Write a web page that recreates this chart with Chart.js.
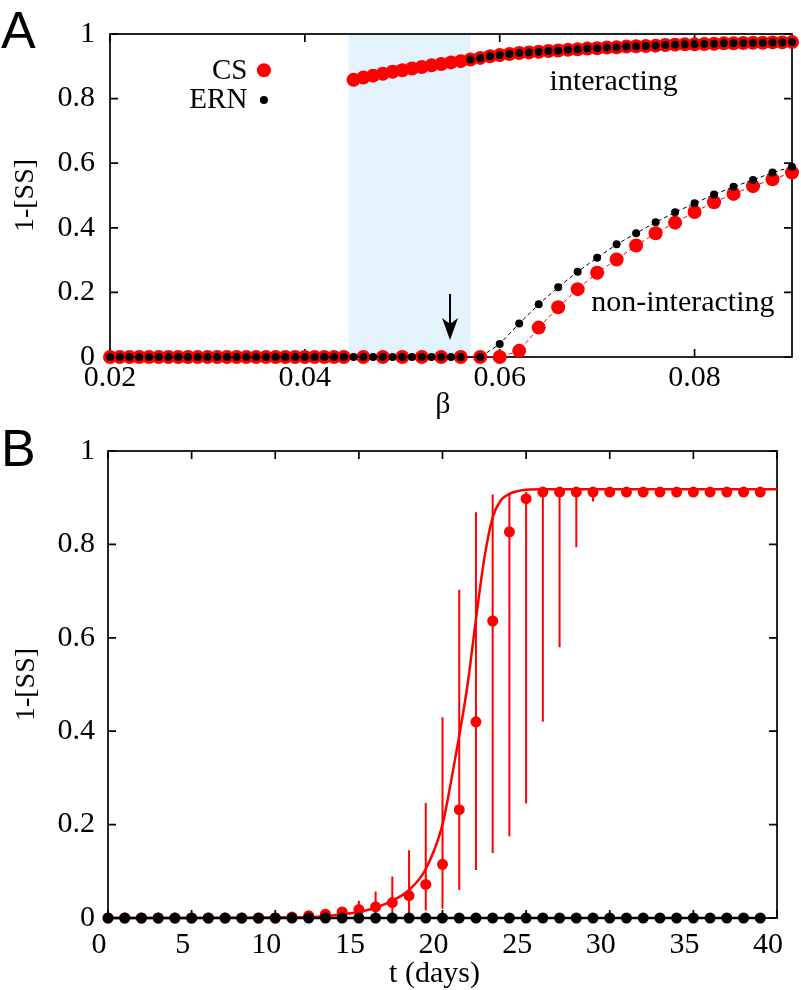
<!DOCTYPE html>
<html lang="en">
<head>
<meta charset="utf-8">
<script src="https://cdn.jsdelivr.net/npm/chart.js@4.4.1/dist/chart.umd.min.js"></script>
<style>
  html, body { margin: 0; padding: 0; background: #fff; }
  #wrap { position: relative; width: 801px; height: 990px; }
  canvas { position: absolute; left: 0; }
  #chartA { top: 0; }
  #chartB { top: 420px; }
</style>
</head>
<body>
<div id="wrap">
  <canvas id="chartA" width="801" height="420"></canvas>
  <canvas id="chartB" width="801" height="570"></canvas>
</div>
<script>
// ---------- panel A : 1-[SS] versus beta ----------
const betaTicks = [0.02, 0.04, 0.06, 0.08];
const levelTicks = [0, 0.2, 0.4, 0.6, 0.8, 1];
const bistableRange = [0.0445, 0.057];   // shaded band

// non-interacting branch (lower), CS
const csLowBeta = [0.020,0.021,0.022,0.023,0.024,0.025,0.026,0.027,0.028,0.029,0.030,0.031,0.032,0.033,0.034,0.035,0.036,0.037,0.038,0.039,0.040,0.041,0.042,0.043,0.044,
  0.046,0.048,0.050,0.052,0.054,0.056,0.058,0.060,0.062,0.064,0.066,0.068,0.070,0.072,0.074,0.076,0.078,0.080,0.082,0.084,0.086,0.088,0.090];
const csLowVal = [0,0,0,0,0,0,0,0,0,0,0,0,0,0,0,0,0,0,0,0,0,0,0,0,0,
  0,0,0,0,0,0,0,0,0.019,0.091,0.154,0.210,0.261,0.302,0.345,0.383,0.416,0.449,0.479,0.505,0.529,0.550,0.571];

// non-interacting branch (lower), ERN
const ernLowBeta = [0.020,0.021,0.022,0.023,0.024,0.025,0.026,0.027,0.028,0.029,0.030,0.031,0.032,0.033,0.034,0.035,0.036,0.037,0.038,0.039,0.040,
  0.041,0.042,0.043,0.044,0.045,0.046,0.047,0.048,0.049,0.050,0.051,0.052,0.053,0.054,0.055,0.056,
  0.058,0.060,0.062,0.064,0.066,0.068,0.070,0.072,0.074,0.076,0.078,0.080,0.082,0.084,0.086,0.088,0.090];
const ernLowVal = [0,0,0,0,0,0,0,0,0,0,0,0,0,0,0,0,0,0,0,0,0,
  0,0,0,0,0,0,0,0,0,0,0,0,0,0,0,0,
  0,0.040,0.104,0.163,0.216,0.264,0.307,0.349,0.383,0.417,0.448,0.476,0.503,0.527,0.548,0.571,0.589];

// interacting branch (upper), CS
const csHighBeta = [0.045,0.046,0.047,0.048,0.049,0.050,0.051,0.052,0.053,0.054,0.055,0.056,
  0.057,0.058,0.059,0.060,0.061,0.062,0.063,0.064,0.065,0.066,0.067,0.068,0.069,0.070,0.071,0.072,0.073,
  0.074,0.075,0.076,0.077,0.078,0.079,0.080,0.081,0.082,0.083,0.084,0.085,0.086,0.087,0.088,0.089,0.090];
const csHighVal = [0.858,0.865,0.871,0.877,0.883,0.888,0.893,0.898,0.903,0.907,0.912,0.916,
  0.921,0.926,0.931,0.935,0.938,0.941,0.943,0.945,0.947,0.949,0.951,0.953,0.955,0.956,0.958,0.959,0.961,
  0.962,0.963,0.964,0.966,0.967,0.968,0.968,0.969,0.970,0.971,0.971,0.972,0.973,0.973,0.974,0.974,0.975];

// interacting branch (upper), ERN
const ernHighBeta = [0.057,0.058,0.059,0.060,0.061,0.062,0.063,0.064,0.065,0.066,0.067,0.068,0.069,0.070,0.071,0.072,0.073,
  0.074,0.075,0.076,0.077,0.078,0.079,0.080,0.081,0.082,0.083,0.084,0.085,0.086,0.087,0.088,0.089,0.090];
const ernHighVal = [0.921,0.926,0.931,0.935,0.938,0.941,0.943,0.945,0.947,0.949,0.951,0.953,0.955,0.956,0.958,0.959,0.961,
  0.962,0.963,0.964,0.966,0.967,0.968,0.968,0.969,0.970,0.971,0.971,0.972,0.973,0.973,0.974,0.974,0.975];

// ---------- panel B : 1-[SS] versus time ----------
const dayTicks = [0, 5, 10, 15, 20, 25, 30, 35, 40];
const days = [0,1,2,3,4,5,6,7,8,9,10,11,12,13,14,15,16,17,18,19,20,21,22,23,24,25,26,27,28,29,30,31,32,33,34,35,36,37,38,39];
const csMean = [0,0,0,0,0,0,0,0,0,0,0,0.002,0.005,0.008,0.013,0.018,0.024,0.033,0.048,0.072,
  0.115,0.232,0.420,0.636,0.827,0.898,0.912,0.912,0.912,0.912,0.912,0.912,0.912,0.912,0.912,0.912,0.912,0.912,0.912,0.912];
const csLow = [0,0,0,0,0,0,0,0,0,0,0,0.002,0.005,0,0,0,0,0,0.005,0.016,
  0.020,0.060,0.103,0.139,0.175,0.245,0.420,0.580,0.794,0.892,0.912,0.912,0.912,0.912,0.912,0.912,0.912,0.912,0.912,0.912];
const csHigh = [0,0,0,0,0,0,0,0,0,0,0,0.002,0.005,0.012,0.020,0.037,0.057,0.089,0.145,0.246,
  0.430,0.703,0.869,0.907,0.910,0.912,0.915,0.915,0.915,0.915,0.912,0.912,0.912,0.912,0.912,0.912,0.912,0.912,0.912,0.912];
const ernMean = [0,0,0,0,0,0,0,0,0,0,0,0,0,0,0,0,0,0,0,0,0,0,0,0,0,0,0,0,0,0,0,0,0,0,0,0,0,0,0,0];
const fitDays = [0,5,10,11,12,13,14,15,16,17,18,19,20,20.5,21,21.5,22,22.5,23,23.5,24,24.5,25,26,30,35,40];
const fitVal = [0,0,0.001,0.001,0.002,0.004,0.008,0.013,0.022,0.037,0.060,0.105,0.200,0.290,0.390,0.500,0.640,0.770,0.858,0.895,0.908,0.914,0.917,0.918,0.918,0.918,0.918];

const RED = '#ff0000';
const SERIF = '"Liberation Serif", "DejaVu Serif", serif';
Chart.defaults.font.family = SERIF;
Chart.defaults.color = '#000';

function pts(xs, ys) {
  return xs.map((x, i) => ({ x: x, y: ys[i] }));
}

// box round the plot with inward ticks on all four sides
const framePlugin = {
  id: 'frame',
  beforeDatasetsDraw(chart, args, o) {
    const { ctx, chartArea: a, scales: { x, y } } = chart;
    ctx.save();
    if (o.shade) {
      const x0 = x.getPixelForValue(o.shade[0]);
      const x1 = x.getPixelForValue(o.shade[1]);
      ctx.fillStyle = 'rgb(228,242,252)';
      ctx.fillRect(x0, a.top, x1 - x0, a.height);
    }
    ctx.strokeStyle = '#000';
    ctx.lineWidth = 1.7;
    ctx.strokeRect(a.left, a.top, a.width, a.height);
    ctx.beginPath();
    o.xTicks.forEach(v => {
      const p = x.getPixelForValue(v);
      ctx.moveTo(p, a.bottom); ctx.lineTo(p, a.bottom - 8);
      ctx.moveTo(p, a.top); ctx.lineTo(p, a.top + 8);
    });
    o.yTicks.forEach(v => {
      const p = y.getPixelForValue(v);
      ctx.moveTo(a.left, p); ctx.lineTo(a.left + 8, p);
      ctx.moveTo(a.right, p); ctx.lineTo(a.right - 8, p);
    });
    ctx.stroke();
    ctx.restore();
  }
};

function yTitle(ctx, a, text, cx) {
  ctx.save();
  ctx.translate(cx, (a.top + a.bottom) / 2);
  ctx.rotate(-Math.PI / 2);
  ctx.font = '28px ' + SERIF;
  ctx.textAlign = 'center';
  ctx.textBaseline = 'middle';
  ctx.fillText(text, 0, 0);
  ctx.restore();
}

// labels, legend and arrow of panel A
const decorA = {
  id: 'decorA',
  afterDatasetsDraw(chart) {
    const { ctx, chartArea: a, scales: { x, y } } = chart;
    ctx.save();
    ctx.fillStyle = '#000';
    ctx.font = '52px "Liberation Sans", Arial, sans-serif';
    ctx.textBaseline = 'alphabetic';
    ctx.fillText('A', 1, 48);

    yTitle(ctx, a, '1-[SS]', 26);

    ctx.font = '30px ' + SERIF;
    ctx.textAlign = 'center';
    ctx.textBaseline = 'middle';
    ctx.fillText('β', (a.left + a.right) / 2 - 8, 405);
    ctx.fillText('interacting', x.getPixelForValue(0.0717), y.getPixelForValue(0.85));
    ctx.fillText('non-interacting', x.getPixelForValue(0.0788), y.getPixelForValue(0.167));

    // legend
    ctx.font = '29px ' + SERIF;
    ctx.textAlign = 'right';
    ctx.fillText('CS', x.getPixelForValue(0.0341), y.getPixelForValue(0.885));
    ctx.fillText('ERN', x.getPixelForValue(0.0341), y.getPixelForValue(0.796));
    ctx.fillStyle = RED;
    ctx.beginPath();
    ctx.arc(x.getPixelForValue(0.0358), y.getPixelForValue(0.888), 7, 0, 2 * Math.PI);
    ctx.fill();
    ctx.fillStyle = '#000';
    ctx.beginPath();
    ctx.arc(x.getPixelForValue(0.0358), y.getPixelForValue(0.796), 4, 0, 2 * Math.PI);
    ctx.fill();

    // arrow pointing at the threshold
    const ax = x.getPixelForValue(0.0549);
    const top = y.getPixelForValue(0.195);
    const tip = y.getPixelForValue(0.053);
    ctx.strokeStyle = '#000';
    ctx.lineWidth = 2;
    ctx.beginPath();
    ctx.moveTo(ax, top); ctx.lineTo(ax, tip - 12);
    ctx.stroke();
    ctx.beginPath();
    ctx.moveTo(ax, tip);
    ctx.lineTo(ax - 8, tip - 22);
    ctx.lineTo(ax, tip - 16);
    ctx.lineTo(ax + 8, tip - 22);
    ctx.closePath();
    ctx.fill();
    ctx.restore();
  }
};

// error bars and labels of panel B
const decorB = {
  id: 'decorB',
  beforeDatasetsDraw(chart) {
    const { ctx, scales: { x, y } } = chart;
    ctx.save();
    ctx.strokeStyle = RED;
    ctx.lineWidth = 2;
    ctx.beginPath();
    days.forEach((d, i) => {
      if (csHigh[i] - csLow[i] <= 0) return;
      const p = x.getPixelForValue(d);
      ctx.moveTo(p, y.getPixelForValue(csLow[i]));
      ctx.lineTo(p, y.getPixelForValue(csHigh[i]));
    });
    ctx.stroke();
    ctx.restore();
  },
  afterDatasetsDraw(chart) {
    const { ctx, chartArea: a } = chart;
    ctx.save();
    ctx.fillStyle = '#000';
    ctx.font = '52px "Liberation Sans", Arial, sans-serif';
    ctx.textBaseline = 'alphabetic';
    ctx.fillText('B', 1, 46);
    yTitle(ctx, a, '1-[SS]', 27);
    ctx.font = '30px ' + SERIF;
    ctx.textAlign = 'center';
    ctx.textBaseline = 'middle';
    ctx.fillText('t (days)', (a.left + a.right) / 2 - 8, 554);
    ctx.restore();
  }
};

function axisX(min, max, ticks, height, pad, offset, fmt) {
  return {
    type: 'linear', min: min, max: max,
    afterBuildTicks: s => { s.ticks = ticks.map(v => ({ value: v })); },
    afterFit: s => { s.height = height; },
    grid: { display: false, drawTicks: false },
    border: { display: false },
    ticks: { padding: pad, labelOffset: offset, maxRotation: 0, autoSkip: false,
      font: { size: 30 }, color: '#000', callback: fmt }
  };
}
function axisY(width, pad) {
  return {
    type: 'linear', min: 0, max: 1,
    afterBuildTicks: s => { s.ticks = levelTicks.map(v => ({ value: v })); },
    afterFit: s => { s.width = width; },
    grid: { display: false, drawTicks: false },
    border: { display: false },
    ticks: { padding: pad, font: { size: 30 }, color: '#000', callback: v => String(v) }
  };
}

new Chart(document.getElementById('chartA'), {
  type: 'scatter',
  data: {
    datasets: [
      { label: 'ERN', data: pts(ernHighBeta, ernHighVal), showLine: false,
        pointRadius: 4, pointBorderWidth: 0, pointBackgroundColor: '#000', clip: false, order: 0 },
      { label: 'ERN', data: pts(ernLowBeta, ernLowVal), showLine: true,
        borderColor: '#000', borderWidth: 1, borderDash: [4, 3],
        pointRadius: 4, pointBorderWidth: 0, pointBackgroundColor: '#000', clip: false, order: 1 },
      { label: 'CS', data: pts(csHighBeta, csHighVal), showLine: false,
        pointRadius: 7, pointBorderWidth: 0, pointBackgroundColor: RED, clip: false, order: 2 },
      { label: 'CS', data: pts(csLowBeta, csLowVal), showLine: true,
        borderColor: RED, borderWidth: 1, borderDash: [4, 3],
        pointRadius: 7, pointBorderWidth: 0, pointBackgroundColor: RED, clip: false, order: 3 }
    ]
  },
  options: {
    responsive: false,
    animation: false,
    events: [],
    layout: { padding: { left: 0, top: 34, right: 9, bottom: 0 } },
    scales: {
      x: axisX(0.02, 0.09, betaTicks, 63, 3, 0, v => v.toFixed(2)),
      y: axisY(110, 15)
    },
    plugins: {
      legend: { display: false },
      tooltip: { enabled: false },
      frame: { xTicks: betaTicks, yTicks: levelTicks, shade: bistableRange }
    }
  },
  plugins: [framePlugin, decorA]
});

new Chart(document.getElementById('chartB'), {
  type: 'scatter',
  data: {
    datasets: [
      { label: 'ERN', data: pts(days, ernMean), showLine: true,
        borderColor: '#000', borderWidth: 2.5,
        pointRadius: 5.5, pointBorderWidth: 0, pointBackgroundColor: '#000', clip: false, order: 0 },
      { label: 'CS', data: pts(days, csMean), showLine: false,
        pointRadius: 5.5, pointBorderWidth: 0, pointBackgroundColor: RED, clip: false, order: 1 },
      { label: 'fit', data: pts(fitDays, fitVal), showLine: true,
        borderColor: RED, borderWidth: 2.5, cubicInterpolationMode: 'monotone',
        pointRadius: 0, clip: false, order: 2 }
    ]
  },
  options: {
    responsive: false,
    animation: false,
    events: [],
    layout: { padding: { left: 0, top: 30, right: 6, bottom: 0 } },
    scales: {
      x: axisX(0, 40, dayTicks, 72, 9, -9, v => String(v)),
      y: axisY(108, 13)
    },
    plugins: {
      legend: { display: false },
      tooltip: { enabled: false },
      frame: { xTicks: dayTicks, yTicks: levelTicks }
    }
  },
  plugins: [framePlugin, decorB]
});
</script>
</body>
</html>
